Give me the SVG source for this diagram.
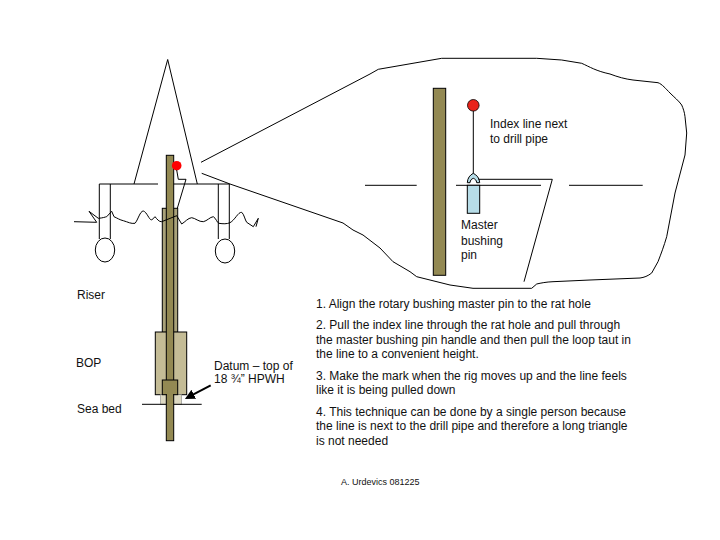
<svg xmlns="http://www.w3.org/2000/svg" width="720" height="540" viewBox="0 0 720 540">
<style>
text{font-family:"Liberation Sans",Arial,sans-serif;font-size:12px;fill:#111}
.l{fill:none;stroke:#000;stroke-width:1}
.b{stroke:#000;stroke-width:1}
.pipe{fill:#938953}
</style>
<defs>
<marker id="ah" markerWidth="6" markerHeight="6" refX="1" refY="2.5" orient="auto" markerUnits="strokeWidth"><path d="M0 0 5 2.5 0 5z" fill="#000"/></marker>
</defs>
<rect width="720" height="540" fill="#fff"/>
<g id="rig">
<path class="l" d="M134 184 167.7 59.5 197.3 184"/>
<path class="l" d="M99.3 184H158M173.3 184H229.3"/>
<path class="l" d="M99.3 184V239M110.3 184V239M218.3 184V239M229.3 184V239"/>
<ellipse class="l" cx="105" cy="250" rx="9.7" ry="12"/>
<ellipse class="l" cx="225" cy="251" rx="9.7" ry="12"/>
</g>
<g id="riser-stack">
<rect class="b" x="162.3" y="208.3" width="15.4" height="124" fill="#a9a27a"/>
<rect class="b" x="155.3" y="332" width="31.4" height="62.7" fill="#c4bc96"/>
<rect x="160.3" y="394.7" width="21.4" height="9.6" fill="#ddd9c3" stroke="#888" stroke-width=".6"/>
<path class="l" d="M142 404.3H201.7"/>
<rect class="b pipe" x="166.3" y="155.3" width="7.4" height="285.4"/>
<rect class="b pipe" x="162.3" y="380" width="15.4" height="14.7"/>
<rect class="pipe" x="167" y="394" width="6" height="12"/>
</g>
<g id="sea">
<path class="l" d="M74 221.7 96.7 222.3 89 211.3 98.3 218.3C103 218 105 217 106.7 216.7L111.7 211.3 114 216.7C117 218 120 220 123.3 220.7 128 222 131 224 135 223.3 138 220 140 211 143.3 211 147 212 149 220 151.7 220L155 216.7C157 219 159 222 161.7 221.7L176.7 215.7 181.7 224C185 222 188 218 191.7 217.7 195 218 199 222 203.3 221.7 207 221 210 217 213.3 216.7 216 218 217 223 219 223.3 223 224 227 224 230 222.7 235 220 238 212 241.7 212.3 244 214 245 220 246.7 222.3L253.3 226.7 258.3 218.3 256 226.7"/>
</g>
<g id="marker-small">
<circle cx="176.7" cy="165.7" r="4.8" fill="#f00"/>
<path class="l" d="M176.7 170 178.3 179.3H186L177.3 208.3"/>
</g>
<g id="connectors">
<path class="l" style="stroke-width:2" d="M210.7 385.3 192 395.2" marker-end="url(#ah)"/>
</g>
<g id="callout">
<path class="l" d="M201 162.3 370 74 378.3 69.3 441.7 58.3H536.7L561.7 60 581.7 63.3C590 67 596 71 610 74 618 77 625 79 633 80L658 82.7C662 84 666 89 670 93 674 97 679 101 681.7 105 683 108 684.5 112 685 116.7L686.7 133 685 155 675 193 666.7 236.7C664 246 661 254 658 261.7L651.7 273C648 276 644 277.5 640 278L590 280 553 281.7C546 282 541 283 536.7 284L531.7 288.3H473L450 285 416.7 276.7 410 271.7 393 261.7 380 248 363 235 353 230 343 223 230 184 201.7 173.3"/>
</g>
<g id="detail-pipe">
<rect class="b pipe" x="433.3" y="88.3" width="12.4" height="187"/>
</g>
<g id="rotary-table">
<path class="l" d="M365 185.3H416.7M456 185.3H541M569 185.3H642.7"/>
</g>
<g id="master-bushing-pin">
<rect class="b" x="467.3" y="185.3" width="12.4" height="28" fill="#b7dde8"/>
<path class="b" fill="#b7dde8" d="M467.3 182.7C467.5 178 470 175 473.3 173.3 476.7 175 479.5 178 479.7 182.7H476.7C476.5 180 475 179 473.3 178.3 471.5 179 470.3 180 470 182.7Z"/>
</g>
<g id="index-line">
<circle cx="473.3" cy="105.3" r="5.8" fill="#e8231a" stroke="#000" stroke-width=".8"/>
<path class="l" d="M473.3 111V173.3M478.3 179.3H552.3L524 281.7"/>
</g>
<g id="labels">
<text x="490" y="127.7">Index line next</text>
<text x="490" y="142.7">to drill pipe</text>
<text x="461" y="229.3">Master</text>
<text x="461" y="245">bushing</text>
<text x="461" y="259.3">pin</text>
<text x="77" y="299">Riser</text>
<text x="76" y="367">BOP</text>
<text x="77" y="413.3">Sea bed</text>
<text x="214" y="370">Datum – top of</text>
<text x="214" y="383.3">18 ¾” HPWH</text>
<text x="316" y="308">1. Align the rotary bushing master pin to the rat hole</text>
<text x="316" y="329">2. Pull the index line through the rat hole and pull through</text>
<text x="316" y="344">the master bushing pin handle and then pull the loop taut in</text>
<text x="316" y="358">the line to a convenient height.</text>
<text x="316" y="380">3. Make the mark when the rig moves up and the line feels</text>
<text x="316" y="394">like it is being pulled down</text>
<text x="316" y="416">4. This technique can be done by a single person because</text>
<text x="316" y="430">the line is next to the drill pipe and therefore a long triangle</text>
<text x="316" y="445">is not needed</text>
<text x="341" y="485" style="font-size:9px">A. Urdevics 081225</text>
</g>
</svg>
